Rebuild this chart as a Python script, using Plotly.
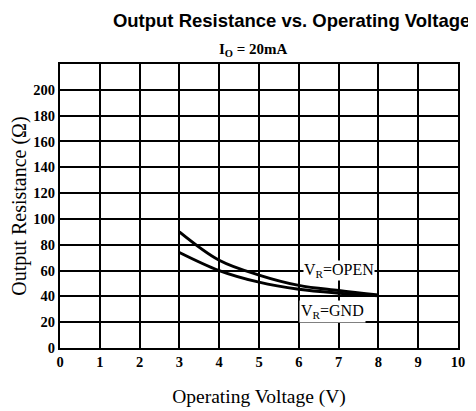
import plotly.graph_objects as go

voltage = [3, 4, 5, 6, 7, 8]
r_open = [90, 68, 56.5, 48.5, 44.5, 41]
r_gnd = [74, 60, 51, 45.5, 42.5, 40.5]
x_ticks = [0, 1, 2, 3, 4, 5, 6, 7, 8, 9, 10]
y_ticks = [0, 20, 40, 60, 80, 100, 120, 140, 160, 180, 200]

fig = go.Figure()
fig.add_trace(go.Scatter(x=voltage, y=r_open, mode="lines", line=dict(color="black", width=3, shape="spline"), showlegend=False))
fig.add_trace(go.Scatter(x=voltage, y=r_gnd, mode="lines", line=dict(color="black", width=3, shape="spline"), showlegend=False))

serif = "Liberation Serif, Times New Roman, serif"
fig.add_annotation(x=7.0, y=60, text="V<sub>R</sub>=OPEN", showarrow=False, bgcolor="white",
                   font=dict(family=serif, size=16, color="black"), borderpad=0)
fig.add_annotation(x=6.85, y=28.5, text="V<sub>R</sub>=GND", showarrow=False, bgcolor="white",
                   font=dict(family=serif, size=16, color="black"), borderpad=1)

# page body has an 8px default margin, so the figure is sized to fill the remaining window
fig.update_layout(
    width=468, height=403,
    margin=dict(l=52, r=18, t=56, b=63),
    paper_bgcolor="white", plot_bgcolor="white",
    title=dict(text="<b>Output Resistance vs. Operating Voltage</b>", x=0.606, xanchor="center", y=0.97, yanchor="middle",
               font=dict(family="Liberation Sans, Arial, sans-serif", size=18.5, color="black")),
    xaxis=dict(range=[0, 10], tickvals=x_ticks, ticktext=[f"<b>{v}</b>" for v in x_ticks],
               showgrid=True, gridcolor="black", gridwidth=1.5, zeroline=False, automargin=False,
               showline=True, linecolor="black", linewidth=2, mirror=True,
               ticks="", tickfont=dict(family=serif, size=14.5, color="black"),
               title=dict(text="Operating Voltage (V)", font=dict(family=serif, size=19.5, color="black"), standoff=20)),
    yaxis=dict(range=[0, 220], tickvals=y_ticks, ticktext=[f"<b>{v}</b>" for v in y_ticks],
               showgrid=True, gridcolor="black", gridwidth=1.5, zeroline=False, automargin=False,
               showline=True, linecolor="black", linewidth=2, mirror=True,
               ticks="", tickfont=dict(family=serif, size=14.5, color="black"),
               title=dict(text="Output Resistance (Ω)", font=dict(family=serif, size=20, color="black"), standoff=4)),
)
fig.add_annotation(x=0.487, y=1.0, xref="paper", yref="paper", yanchor="bottom", yshift=3,
                   text="<b>I<sub>O</sub> = 20mA</b>", showarrow=False,
                   font=dict(family=serif, size=15, color="black"))

fig.write_html("out.html")
